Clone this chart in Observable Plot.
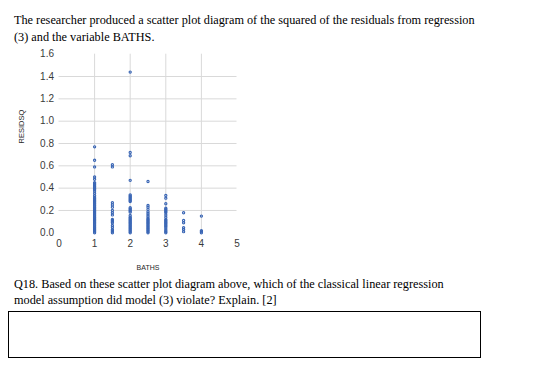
<!DOCTYPE html>
<html>
<head>
<meta charset="utf-8">
<script src="https://cdn.jsdelivr.net/npm/d3@7"></script>
<script src="https://cdn.jsdelivr.net/npm/@observablehq/plot@0.6"></script>
<style>
  html, body { margin: 0; padding: 0; background: #fff; }
  #page { position: relative; width: 547px; height: 372px; overflow: hidden; background: #fff; }
  .para { position: absolute; left: 14px; font-family: "Liberation Serif", "Times New Roman", serif; font-size: 12.25px; color: #000; white-space: nowrap; }
  #intro { top: 12px; line-height: 16.5px; }
  #q18 { top: 277.2px; line-height: 15.5px; }
  #box { position: absolute; left: 8px; top: 311px; width: 473px; height: 47px; border: 1px solid #000; box-sizing: border-box; }
  #chart { position: absolute; left: 0; top: 45px; }
</style>
</head>
<body>
<div id="page">
  <div class="para" id="intro">The researcher produced a scatter plot diagram of the squared of the residuals from regression<br>(3) and the variable BATHS.</div>
  <div id="chart"></div>
  <div class="para" id="q18">Q18. Based on these scatter plot diagram above, which of the classical linear regression<br>model assumption did model (3) violate? Explain. [2]</div>
  <div id="box"></div>
</div>
<script>
// Tick labels and grid positions
const xTicks = [0, 1, 2, 3, 4, 5];
const yTicks = [0, 0.2, 0.4, 0.6, 0.8, 1.0, 1.2, 1.4, 1.6];
const xGrid = [1, 2, 3, 4];
const yGrid = [0.2, 0.4, 0.6, 0.8, 1.0, 1.2, 1.4];

// BATHS categories
const baths = [1, 1.5, 2, 2.5, 3, 3.5, 4];

// RESIDSQ values read for each BATHS value
const residBaths1 = [0.00, 0.01, 0.02, 0.03, 0.04, 0.05, 0.06, 0.07, 0.08, 0.09, 0.10, 0.11, 0.12, 0.13, 0.14, 0.15, 0.16, 0.17, 0.18, 0.19, 0.20, 0.21, 0.22, 0.23, 0.24, 0.25, 0.26, 0.27, 0.28, 0.29, 0.30, 0.31, 0.32, 0.335, 0.355, 0.375, 0.39, 0.40, 0.41, 0.42, 0.43, 0.44, 0.45, 0.48, 0.50, 0.59, 0.65, 0.77];
const residBaths15 = [0.00, 0.01, 0.02, 0.03, 0.05, 0.065, 0.09, 0.10, 0.11, 0.12, 0.16, 0.18, 0.20, 0.23, 0.25, 0.27, 0.59, 0.61];
const residBaths2 = [0.00, 0.01, 0.02, 0.03, 0.04, 0.05, 0.06, 0.07, 0.08, 0.09, 0.10, 0.11, 0.12, 0.13, 0.14, 0.155, 0.185, 0.195, 0.205, 0.215, 0.225, 0.28, 0.29, 0.30, 0.31, 0.32, 0.33, 0.34, 0.47, 0.69, 0.72, 1.44];
const residBaths25 = [0.00, 0.01, 0.02, 0.03, 0.04, 0.05, 0.06, 0.07, 0.08, 0.09, 0.10, 0.11, 0.12, 0.13, 0.145, 0.16, 0.175, 0.19, 0.21, 0.23, 0.245, 0.46];
const residBaths3 = [0.00, 0.01, 0.02, 0.035, 0.05, 0.06, 0.07, 0.08, 0.09, 0.10, 0.11, 0.12, 0.14, 0.16, 0.18, 0.19, 0.20, 0.21, 0.22, 0.26, 0.31, 0.335];
const residBaths35 = [0.01, 0.03, 0.045, 0.09, 0.11, 0.18];
const residBaths4 = [0.00, 0.01, 0.02, 0.15];

const residLists = [residBaths1, residBaths15, residBaths2, residBaths25, residBaths3, residBaths35, residBaths4];
const data = baths.flatMap((b, i) => residLists[i].map(v => ({baths: b, residsq: v})));

const chart = Plot.plot({
  width: 250,
  height: 235,
  marginLeft: 58.5,
  marginRight: 13.5,
  marginTop: 8.7,
  marginBottom: 47.7,
  x: {domain: [0, 5]},
  y: {domain: [0, 1.6]},
  style: {fontFamily: "'Liberation Sans', Arial, sans-serif", fontSize: "10px", color: "#3a3a3a", background: "transparent", overflow: "visible"},
  marks: [
    Plot.ruleY(yGrid, {stroke: "#d9d9d9", strokeOpacity: 1}),
    Plot.ruleX(xGrid, {stroke: "#d9d9d9", strokeOpacity: 1}),
    Plot.axisX({ticks: xTicks, tickSize: 0, tickPadding: 7, label: null, tickFormat: d => String(d)}),
    Plot.axisY({ticks: yTicks, tickSize: 0, tickPadding: 5, label: null, tickFormat: d3.format(".1f")}),
    Plot.dot(data, {x: "baths", y: "residsq", r: 1.1, stroke: "#3a66b5", strokeWidth: 1.15, fill: "none"}),
    Plot.text(["RESIDSQ"], {text: d => d, frameAnchor: "left", dx: -37.5, rotate: -90, fontSize: 7.5, fill: "#262626"}),
    Plot.text(["BATHS"], {text: d => d, frameAnchor: "bottom", dy: 36.7, fontSize: 7, fill: "#262626"})
  ]
});
document.getElementById("chart").appendChild(chart);
</script>
</body>
</html>
